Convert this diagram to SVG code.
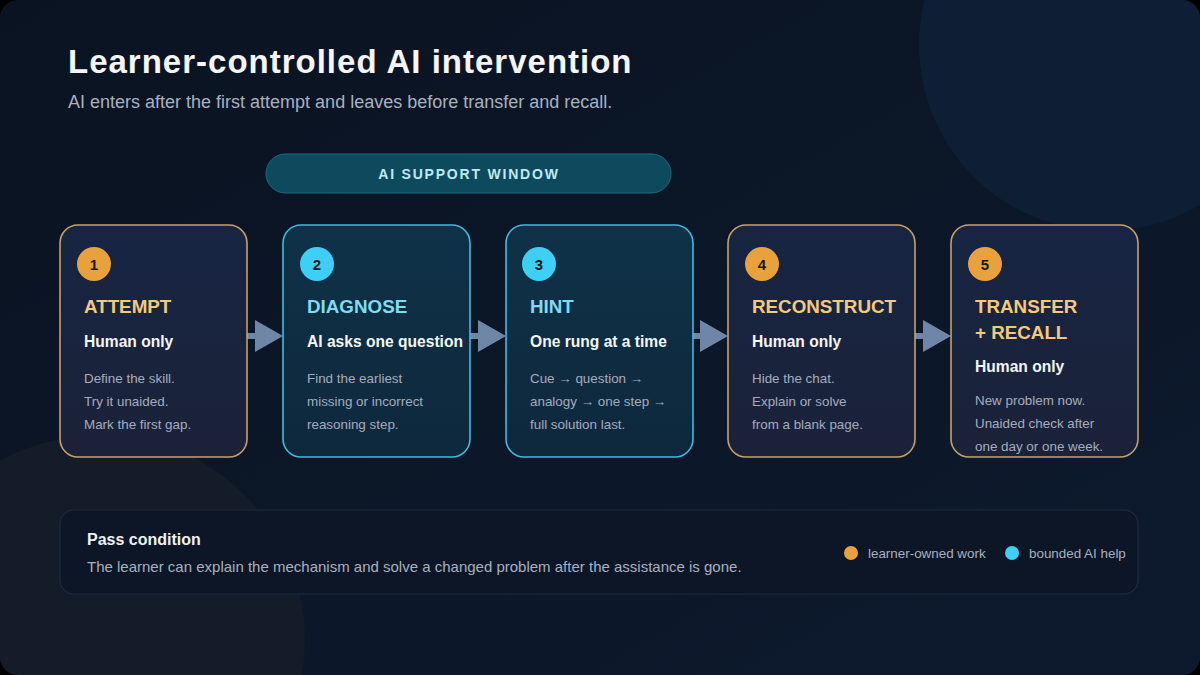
<svg xmlns="http://www.w3.org/2000/svg" width="1200" height="675" viewBox="0 0 1200 675">
<defs>
<linearGradient id="bg" x1="0" y1="0" x2="1" y2="1">
<stop offset="0" stop-color="#0a1321"/>
<stop offset="1" stop-color="#0d1a2e"/>
</linearGradient>
<linearGradient id="hum" x1="0" y1="0" x2="0" y2="1">
<stop offset="0" stop-color="#172543"/>
<stop offset="1" stop-color="#1b2238"/>
</linearGradient>
<linearGradient id="ai" x1="0" y1="0" x2="0" y2="1">
<stop offset="0" stop-color="#0f3248"/>
<stop offset="1" stop-color="#0e283c"/>
</linearGradient>
<clipPath id="frame"><rect x="0" y="0" width="1200" height="675" rx="18"/></clipPath>
<style>
text{font-family:"Liberation Sans",Arial,sans-serif}
.card-h{stroke:#c9a06a;stroke-width:1.6;fill:url(#hum)}
.card-a{stroke:#3bbde0;stroke-width:1.6;fill:url(#ai)}
.num{font-size:15px;font-weight:bold;fill:#16181f;text-anchor:middle}
.th{font-size:18.8px;font-weight:bold;fill:#f5c97a}
.ta{font-size:18.8px;font-weight:bold;fill:#7fdcf3}
.sub{font-size:15.6px;font-weight:bold;fill:#f2f5fa}
.body{font-size:13.4px;fill:#a4adbd}
.arrow{fill:#6f87a6}
</style>
</defs>
<rect width="1200" height="675" fill="#000"/>
<g clip-path="url(#frame)">
<rect width="1200" height="675" fill="url(#bg)"/>
<circle cx="1105" cy="45" r="186" fill="#0e1f35"/>
<circle cx="100" cy="640" r="205" fill="#141b29"/>
</g>
<g id="header">
<text x="68" y="73" font-size="33" font-weight="bold" fill="#f4f6fa" letter-spacing="1">Learner-controlled AI intervention</text>
<text x="68" y="108" font-size="18" fill="#a7b1c0">AI enters after the first attempt and leaves before transfer and recall.</text>
</g>
<g id="ai-window">
<rect x="266" y="154" width="405" height="39" rx="19.5" fill="#0e4a5e" stroke="#1e6a80" stroke-width="1"/>
<text x="469" y="179" font-size="14" font-weight="bold" fill="#bfe9f5" text-anchor="middle" letter-spacing="1.8">AI SUPPORT WINDOW</text>
</g>
<g id="connectors">
<rect x="247" y="333" width="10" height="6" class="arrow"/>
<polygon points="255,320 283,336 255,352" class="arrow"/>
<rect x="470" y="333" width="10" height="6" class="arrow"/>
<polygon points="478,320 506,336 478,352" class="arrow"/>
<rect x="693" y="333" width="10" height="6" class="arrow"/>
<polygon points="700,320 728,336 700,352" class="arrow"/>
<rect x="915" y="333" width="10" height="6" class="arrow"/>
<polygon points="923,320 951,336 923,352" class="arrow"/>
</g>
<g id="step1">
<rect x="60" y="225" width="187" height="232" rx="18" class="card-h"/>
<circle cx="94" cy="264" r="17" fill="#e9a23b"/>
<text x="94" y="269.5" class="num">1</text>
<text x="84" y="313" class="th">ATTEMPT</text>
<text x="84" y="347" class="sub">Human only</text>
<text x="84" y="383" class="body">Define the skill.</text>
<text x="84" y="406" class="body">Try it unaided.</text>
<text x="84" y="429" class="body">Mark the first gap.</text>
</g>
<g id="step2">
<rect x="283" y="225" width="187" height="232" rx="18" class="card-a"/>
<circle cx="317" cy="264" r="17" fill="#3dcff5"/>
<text x="317" y="269.5" class="num">2</text>
<text x="307" y="313" class="ta">DIAGNOSE</text>
<text x="307" y="347" class="sub">AI asks one question</text>
<text x="307" y="383" class="body">Find the earliest</text>
<text x="307" y="406" class="body">missing or incorrect</text>
<text x="307" y="429" class="body">reasoning step.</text>
</g>
<g id="step3">
<rect x="506" y="225" width="187" height="232" rx="18" class="card-a"/>
<circle cx="539" cy="264" r="17" fill="#3dcff5"/>
<text x="539" y="269.5" class="num">3</text>
<text x="530" y="313" class="ta">HINT</text>
<text x="530" y="347" class="sub">One rung at a time</text>
<text x="530" y="383" class="body">Cue → question →</text>
<text x="530" y="406" class="body">analogy → one step →</text>
<text x="530" y="429" class="body">full solution last.</text>
</g>
<g id="step4">
<rect x="728" y="225" width="187" height="232" rx="18" class="card-h"/>
<circle cx="762" cy="264" r="17" fill="#e9a23b"/>
<text x="762" y="269.5" class="num">4</text>
<text x="752" y="313" class="th">RECONSTRUCT</text>
<text x="752" y="347" class="sub">Human only</text>
<text x="752" y="383" class="body">Hide the chat.</text>
<text x="752" y="406" class="body">Explain or solve</text>
<text x="752" y="429" class="body">from a blank page.</text>
</g>
<g id="step5">
<rect x="951" y="225" width="187" height="232" rx="18" class="card-h"/>
<circle cx="985" cy="264" r="17" fill="#e9a23b"/>
<text x="985" y="269.5" class="num">5</text>
<text x="975" y="313" class="th">TRANSFER</text>
<text x="975" y="339" class="th">+ RECALL</text>
<text x="975" y="372" class="sub">Human only</text>
<text x="975" y="405" class="body">New problem now.</text>
<text x="975" y="428" class="body">Unaided check after</text>
<text x="975" y="451" class="body">one day or one week.</text>
</g>
<g id="pass-condition">
<rect x="60" y="510" width="1078" height="84" rx="14" fill="#0c1626" stroke="#1f2b3e" stroke-width="1.2"/>
<text x="87" y="545" font-size="16" font-weight="bold" fill="#eef2f7">Pass condition</text>
<text x="87" y="572" font-size="15" fill="#a7b1c0">The learner can explain the mechanism and solve a changed problem after the assistance is gone.</text>
</g>
<g id="legend">
<circle cx="851" cy="553" r="7" fill="#e9a23b"/>
<text x="868" y="557.5" font-size="13.4" fill="#a7b1c0">learner-owned work</text>
<circle cx="1012" cy="553" r="7" fill="#3dcff5"/>
<text x="1029" y="557.5" font-size="13.4" fill="#a7b1c0">bounded AI help</text>
</g>
</svg>
